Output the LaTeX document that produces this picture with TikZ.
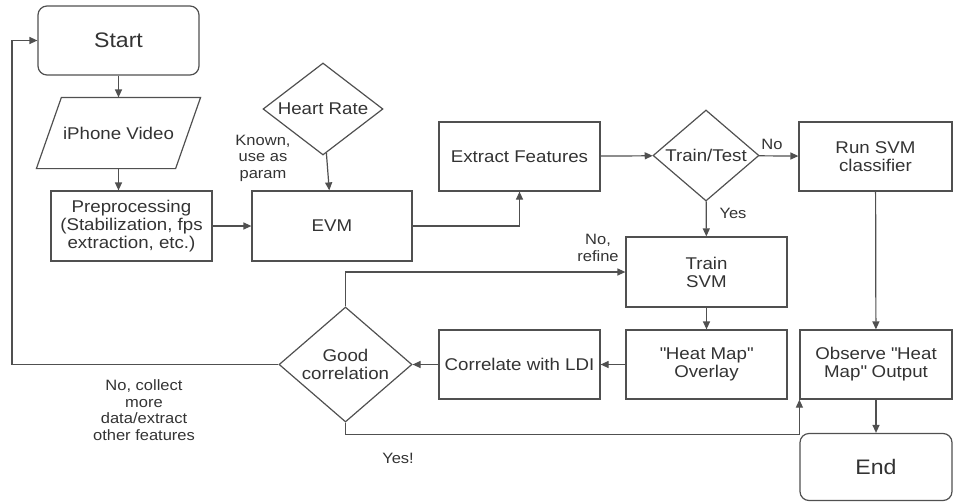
\documentclass[tikz,border=0pt]{standalone}
\usepackage{fontspec}
\setmainfont{Liberation Sans}[FakeStretch=1.1]
\usetikzlibrary{shapes.geometric,arrows.meta}
\definecolor{linegray}{HTML}{505050}
\definecolor{textgray}{HTML}{333333}

\begin{document}
\begin{tikzpicture}[x=1pt,y=-1pt,
  every node/.style = {text=textgray},
  box/.style = {rectangle, draw=linegray, line width=1.2pt, inner sep=0pt, align=center,
                font=\fontsize{17}{18}\selectfont},
  term/.style = {box, rounded corners=9pt, font=\fontsize{21}{24}\selectfont},
  io/.style = {box, draw=none},
  decide/.style = {box, diamond, aspect=1.2},
  note/.style = {align=center, font=\fontsize{15}{16.5}\selectfont},
  flow/.style = {draw=linegray, line width=1.2pt, -{Triangle[length=8pt,width=7pt]}},
  line/.style = {draw=linegray, line width=1.2pt}]

\useasboundingbox (0,0) rectangle (953,501);

\node[term, minimum width=161, minimum height=69] (start) at (118.5,40.5) {Start};
\node[io, minimum width=138, minimum height=70] (video) at (118.5,133) {iPhone Video};
\node[box, minimum width=161, minimum height=70] (pre) at (131.5,226) {Preprocessing\\(Stabilization, fps\\extraction, etc.)};
\node[decide, minimum width=120, minimum height=92] (hr) at (323,109) {Heart Rate};
\node[box, minimum width=160, minimum height=70] (evm) at (332,226) {EVM};
\node[box, minimum width=161, minimum height=69] (ext) at (519.5,156.5) {Extract Features};
\node[decide, minimum width=106, minimum height=91] (tt) at (706,155.5) {Train/Test};
\node[box, minimum width=153, minimum height=69] (svm) at (875.5,156.5) {Run SVM\\classifier};
\node[box, minimum width=161, minimum height=70] (train) at (706.5,272) {Train\\SVM};
\node[box, minimum width=161, minimum height=69] (heat) at (706.5,364.5) {\textquotedbl Heat Map\textquotedbl\\Overlay};
\node[box, minimum width=161, minimum height=69] (ldi) at (519.5,364.5) {Correlate with LDI};
\node[decide, minimum width=133, minimum height=115] (good) at (345.5,364.5) {Good\\correlation};
\node[box, minimum width=152, minimum height=69] (obs) at (876,364.5) {Observe \textquotedbl Heat\\Map\textquotedbl{} Output};
\node[term, minimum width=152, minimum height=67] (end) at (876,467) {End};

% slanted input box
\draw[line] ([xshift=-12.5]video.south west) -- ([xshift=-12.5]video.south east)
  -- ([xshift=12.5]video.north east) -- ([xshift=12.5]video.north west) -- cycle;

\coordinate (back) at (12,364.5);

\node[note] (known) at (263,158) {Known,\\use as\\param};
\node[note] (refine) at (598,248) {No,\\refine};
\node[note] (collect) at (144,410) {No, collect\\more\\data/extract\\other features};
\node[note] (yesok) at (398,458) {Yes!};
\node[note] (no) at (772,144) {No};
\node[note] (yes) at (733,213) {Yes};

\draw[flow] (start) -- (video);
\draw[flow] (video.south) -- (video.south |- pre.north);
\draw[flow] (pre) -- (evm);
\draw[flow] (hr) -- (evm);
\draw[flow] (evm.east) -| (ext.south);
\draw[flow] (ext) -- (tt);
\draw[flow] (tt) -- (svm);
\draw[flow] (tt) -- (train);
\draw[flow] (train) -- (heat);
\draw[flow] (heat) -- (ldi);
\draw[flow] (ldi) -- (good);
\draw[flow] (svm) -- (obs);
\draw[flow] (obs) -- (end);
\draw[flow] (good.north) |- (train.west);
\draw[flow] (good.west) -- (back) |- (start.west);
\draw[flow] (good.south) -- ++(0,12) -| (obs.south west);

\end{tikzpicture}
\end{document}
